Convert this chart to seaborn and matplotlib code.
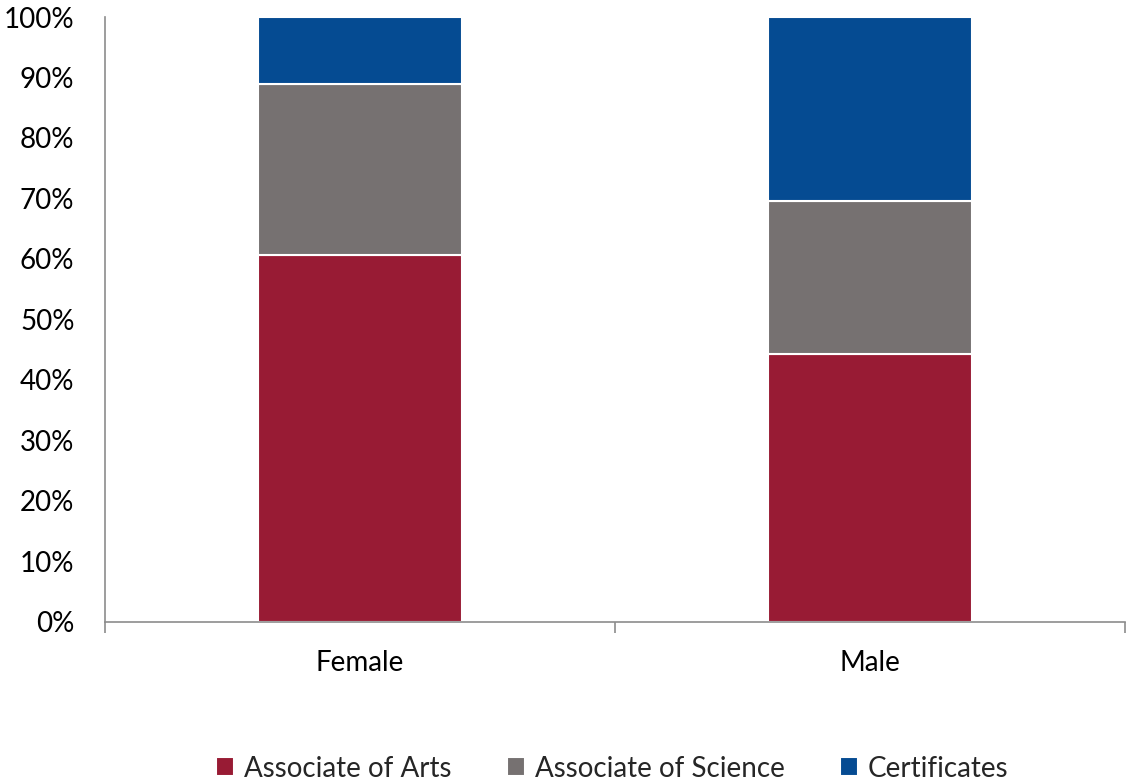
import numpy as np
import pandas as pd
import matplotlib
matplotlib.use("Agg")
import matplotlib.pyplot as plt
import seaborn as sns
from matplotlib.ticker import PercentFormatter, FixedLocator

# date (procente din total pe gen)
genders = ["Female", "Male"]
series = ["Associate of Arts", "Associate of Science", "Certificates"]
assoc_arts = [60.7, 44.3]
assoc_science = [28.2, 25.3]
certificates = [11.1, 30.4]
colors = ["#981B34", "#767171", "#054B92"]

df = pd.DataFrame({"Gender": genders,
                   "Associate of Arts": assoc_arts,
                   "Associate of Science": assoc_science,
                   "Certificates": certificates})

sns.set_style("white")
plt.rcParams["font.family"] = ["Lato", "DejaVu Sans"]

fig, ax = plt.subplots(figsize=(11.28, 7.8), dpi=100)
fig.subplots_adjust(left=0.0931, right=0.9973, top=0.9782, bottom=0.2026)

bottom = np.zeros(len(genders))
for name, col in zip(series, colors):
    sns.barplot(data=df, x="Gender", y=name, color=col, width=0.4, saturation=1,
                bottom=bottom, edgecolor="white", linewidth=1.5,
                label=name, ax=ax)
    bottom = bottom + df[name].values

ax.set_ylim(0, 100)
ax.set_xlim(-0.5, 1.5)
ax.yaxis.set_major_locator(FixedLocator(np.arange(0, 101, 10)))
ax.yaxis.set_major_formatter(PercentFormatter(decimals=0))
ax.set_xlabel("")
ax.set_ylabel("")

for s in ["top", "right"]:
    ax.spines[s].set_visible(False)
for s in ["left", "bottom"]:
    ax.spines[s].set_color("#8c8c8c")
    ax.spines[s].set_linewidth(1.2)

ax.tick_params(axis="y", length=0, pad=22, labelsize=20, labelcolor="black")
ax.tick_params(axis="x", which="major", length=0, pad=20, labelsize=20, labelcolor="black")
ax.set_xticks([-0.5, 0.5, 1.5], minor=True)
ax.tick_params(axis="x", which="minor", bottom=True, length=8, width=1.2,
               color="#8c8c8c", direction="out")

handles, labels = ax.get_legend_handles_labels()
if ax.get_legend() is not None:
    ax.get_legend().remove()
fig.legend(handles, labels, loc="lower center", bbox_to_anchor=(0.543, -0.034),
           ncol=3, frameon=False, fontsize=20, handlelength=0.65, handleheight=0.65,
           handletextpad=0.35, columnspacing=2.0)

fig.savefig("out.png", dpi=100)
